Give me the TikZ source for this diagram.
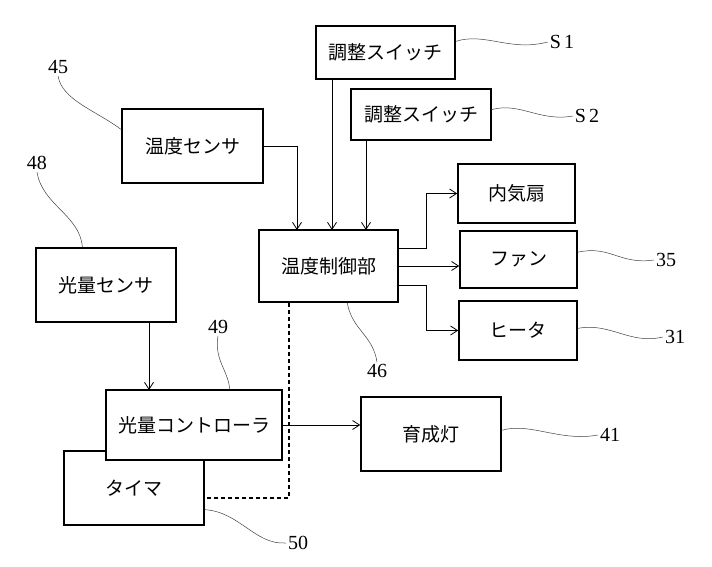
\documentclass[tikz,border=0pt]{standalone}
\usepackage{fontspec}
\newfontfamily\jpfont{Noto Sans CJK JP}
\newfontfamily\numfont{Liberation Serif}
\usetikzlibrary{arrows.meta, positioning}

\begin{document}
\begin{tikzpicture}[x=1pt, y=-1pt, >={Straight Barb[length=7pt, width=9pt]},
    box/.style={draw, line width=1.5pt, fill=white, inner sep=0pt,
        font=\jpfont\fontsize{19}{21}\selectfont},
    link/.style={->, line width=0.8pt},
    lead/.style={line width=0.5pt, black!75},
    num/.style={inner sep=2pt, font=\numfont\fontsize{20}{22}\selectfont}]
    \useasboundingbox (0,0) rectangle (712,567);

    % Blocks
    \node[box, minimum width=139pt, minimum height=53pt] (swA) at (385.5,52.5) {調整スイッチ};
    \node[box, minimum width=140pt, minimum height=51pt] (swB) at (421,114.5) {調整スイッチ};
    \node[box, minimum width=141pt, minimum height=74pt] (sensorT) at (192.5,146) {温度センサ};
    \node[box, minimum width=139pt, minimum height=72pt] (ctrl) at (328.5,266) {温度制御部};
    \node[box, minimum width=117pt, minimum height=59pt] (fanIn) at (516.5,193.5) {内気扇};
    \node[box, minimum width=117pt, minimum height=57pt] (fan) at (518.5,259.5) {ファン};
    \node[box, minimum width=118pt, minimum height=59pt] (heater) at (518,330.5) {ヒータ};
    \node[box, minimum width=140pt, minimum height=74pt] (sensorL) at (106,285) {光量センサ};
    \node[box, minimum width=140pt, minimum height=74pt] (timer) at (134,488) {タイマ};
    \node[box, minimum width=176pt, minimum height=70pt] (lctrl) at (194,425) {光量コントローラ};
    \node[box, minimum width=140pt, minimum height=74pt] (lamp) at (431,434) {育成灯};

    % Inputs of the temperature controller
    \coordinate (inT) at (297,230);
    \coordinate (inA) at (332,230);
    \coordinate (inB) at (366,230);
    \draw[link] (sensorT.east) -| (inT);
    \draw[link] (swA.south -| inA) -- (inA);
    \draw[link] (swB.south -| inB) -- (inB);

    % Outputs
    \draw[link] ([yshift=18pt]ctrl.east) -- ++(28,0) |- (fanIn.west);
    \draw[link] (ctrl.east) -- (ctrl.east -| fan.west);
    \draw[link] ([yshift=-19pt]ctrl.east) -- ++(28,0) |- (heater.west);

    % Light side
    \coordinate (inL) at (149,390);
    \draw[link] (sensorL.south -| inL) -- (inL);
    \draw[link] (lctrl.east) -- (lctrl.east -| lamp.west);
    \coordinate (dashC) at (289,498);
    \draw[line width=1.1pt, dash pattern=on 4pt off 3pt] (ctrl.south -| dashC) -- (dashC) -- (dashC -| timer.east);

    % Reference numbers
    \node[num] (n45) at (58,67) {45};
    \node[num] (n48) at (37,163) {48};
    \node[num] (n49) at (218,327) {49};
    \node[num] (n50) at (298,543) {50};
    \node[num] (n46) at (377,371) {46};
    \node[num] (nS1) at (562,42) {S\hspace{3pt}1};
    \node[num] (nS2) at (587,116) {S\hspace{3pt}2};
    \node[num] (n35) at (666,260) {35};
    \node[num] (n31) at (675,337) {31};
    \node[num] (n41) at (610,435) {41};

    \draw[lead] (n45.south) .. controls (62,100) and (95,110) .. (sensorT.167);
    \draw[lead] (n48.south) .. controls (42,205) and (80,215) .. (sensorL.122);
    \draw[lead] (n49.south) .. controls (214,360) and (228,370) .. (lctrl.45);
    \draw[lead] (timer.-17) .. controls (240,512) and (255,545) .. (n50.west);
    \draw[lead] (ctrl.-63) .. controls (352,330) and (373,335) .. (n46.north);
    \draw[lead] (swA.9) .. controls (485,32) and (510,52) .. (nS1.west);
    \draw[lead] (swB.4) .. controls (520,102) and (540,122) .. (nS2.west);
    \draw[lead] (fan.7) .. controls (610,245) and (620,265) .. (n35.west);
    \draw[lead] (heater.2) .. controls (610,322) and (630,345) .. (n31.west);
    \draw[lead] (lamp.3) .. controls (530,422) and (560,442) .. (n41.west);
\end{tikzpicture}
\end{document}
